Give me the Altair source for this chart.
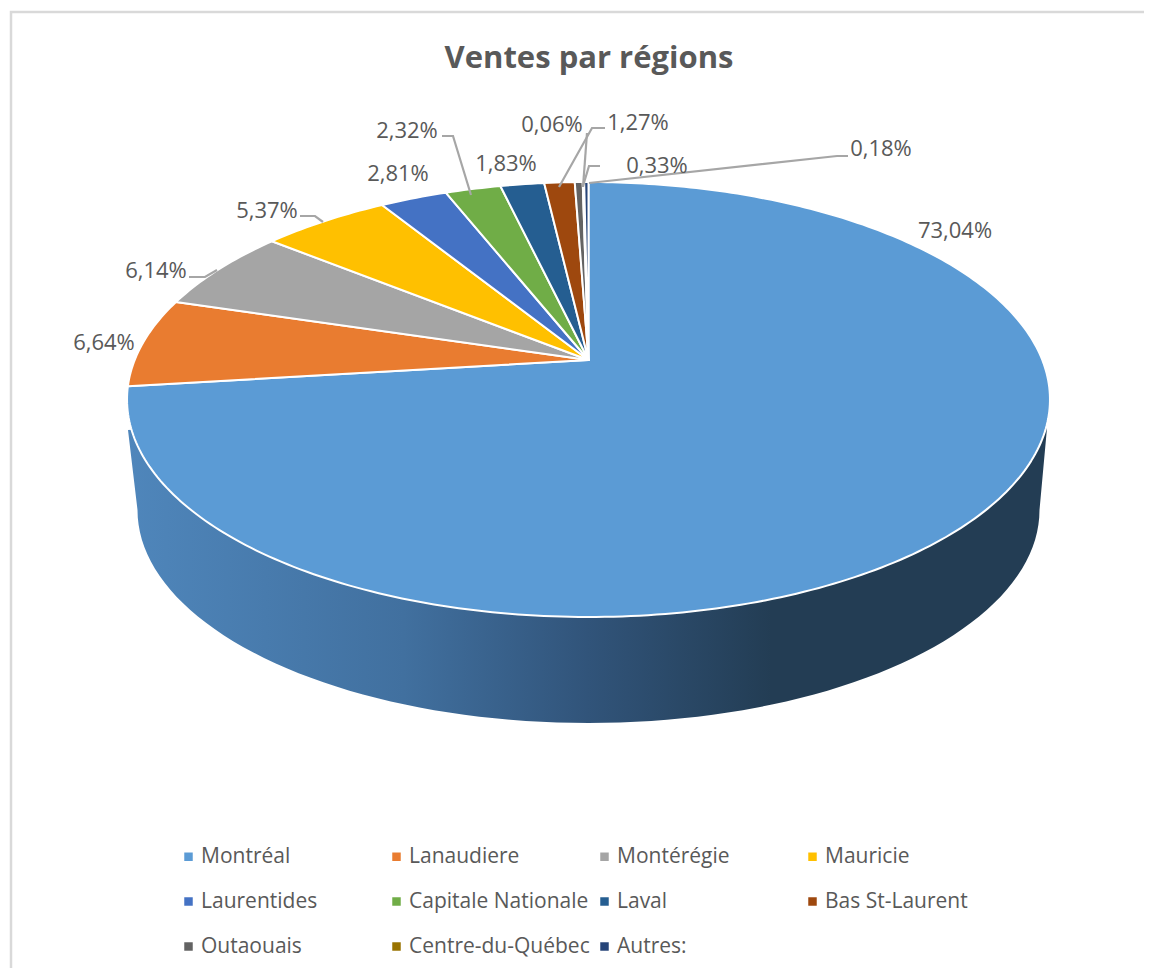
import math
import altair as alt

# ---- data -----------------------------------------------------------------
regions = ["Montréal", "Lanaudiere", "Montérégie", "Mauricie", "Laurentides",
           "Capitale Nationale", "Laval", "Bas St-Laurent", "Outaouais",
           "Centre-du-Québec", "Autres:"]
shares = [73.04, 6.64, 6.14, 5.37, 2.81, 2.32, 1.83, 1.27, 0.33, 0.06, 0.18]
colors = ["#5B9BD5", "#E97C30", "#A5A5A5", "#FFC000", "#4472C4", "#70AD47",
          "#255E91", "#9E480E", "#636363", "#997300", "#264478"]
label_texts = ["73,04%", "6,64%", "6,14%", "5,37%", "2,81%", "2,32%", "1,83%",
               "1,27%", "0,33%", "0,06%", "0,18%"]

# ---- layout of the tilted disc, in page pixels -----------------------------
OFF = 8            # page margin
CX, CY = 588.5, 360.0
RX, RY, K = 453.8, 210.3, 0.1816   # perspective of the disc
LOW_CY, LOW_RX, LOW_RY = 510.0, 451.0, 213.0   # lower rim
label_xy = [(955, 229), (104, 341), (156, 269), (267, 209), (398, 172), (407, 129),
            (506, 162), (638, 121), (657, 164), (552, 123), (881, 147)]
leaders = [
    [(189, 277), (205, 277), (217, 270)],
    [(300, 216), (315, 216), (323, 222)],
    [(442, 136), (453, 136), (471, 195)],
    [(605, 128), (592, 128), (559, 187)],
    [(587, 133), (583, 187)],
    [(600, 166), (589, 166), (583, 186)],
    [(848, 156), (837, 156), (589, 183)],
]
frame = [(11, 990), (11, 12), (1170, 12)]
WIDTH, HEIGHT = 1136, 960


def pt(x, y):
    return [x - OFF, y - OFF]


def disc(theta):
    u, v = math.sin(theta), math.cos(theta)
    d = 1 + K * v
    return pt(CX + RX * u / d, CY - RY * v / d)


def feature(kind, coords, **props):
    return {"type": "Feature", "properties": props,
            "geometry": {"type": kind, "coordinates": coords}}


def collection(features):
    return alt.InlineData(values={"type": "FeatureCollection", "features": features},
                          format=alt.DataFormat(property="features", type="json"))


slices, acc = [], 0.0
total = sum(shares)
for name, share in zip(regions, shares):
    a0 = 2 * math.pi * acc / total
    a1 = 2 * math.pi * (acc + share) / total
    n = max(3, int(share * 4))
    ring = [pt(CX, CY)] + [disc(a0 + (a1 - a0) * i / n) for i in range(n + 1)] + [pt(CX, CY)]
    slices.append(feature("Polygon", [ring], region=name))
    acc += share

wall_ring = [pt(128, 430)]
for i in range(0, 181, 2):
    a = math.radians(i)
    wall_ring.append(pt(CX - LOW_RX * math.cos(a), LOW_CY + LOW_RY * math.sin(a)))
wall_ring += [pt(1047, 428), pt(CX, 400), pt(128, 430)]

proj = dict(type="identity", scale=1, translate=[0, 0])

frame_layer = alt.Chart(collection([feature("LineString", [pt(*p) for p in frame])])).mark_geoshape(
    filled=False, stroke="#D9D9D9", strokeWidth=2.5).project(**proj)

wall_layer = alt.Chart(collection([feature("Polygon", [wall_ring])])).mark_geoshape(
    fill=alt.Gradient(gradient="linear", x1=0, x2=1, y1=0, y2=0, stops=[
        alt.GradientStop(offset=0, color="#4F86BB"),
        alt.GradientStop(offset=0.3, color="#41709F"),
        alt.GradientStop(offset=0.5, color="#31547A"),
        alt.GradientStop(offset=0.7, color="#233D54"),
        alt.GradientStop(offset=1, color="#233D54"),
    ])).project(**proj)

slice_layer = alt.Chart(collection(slices)).mark_geoshape(
    stroke="white", strokeWidth=2, strokeJoin="round").encode(
    color=alt.Color("properties.region:N",
                    scale=alt.Scale(domain=regions, range=colors),
                    legend=alt.Legend(
                        title=None, orient="none", legendX=170, legendY=838,
                        direction="horizontal",
                        columns=4, gridAlign="all", columnPadding=4, rowPadding=23,
                        symbolType="square", symbolSize=72, symbolStrokeWidth=0,
                        labelFont="Open Sans", labelFontSize=21, labelColor="#595959",
                        labelOffset=2, labelLimit=240))
).project(**proj)

leader_layer = alt.Chart(collection(
    [feature("LineString", [pt(*p) for p in line]) for line in leaders])).mark_geoshape(
    filled=False, stroke="#A6A6A6", strokeWidth=2.2).project(**proj)

label_rows = [{"txt": t, "lon": x - OFF, "lat": y - OFF} for t, (x, y) in zip(label_texts, label_xy)]
label_layer = alt.Chart(alt.Data(values=label_rows)).mark_text(
    font="Open Sans", fontSize=22, color="#595959", align="center", baseline="middle", dy=1.5
).encode(longitude="lon:Q", latitude="lat:Q", text="txt:N").project(**proj)

chart = alt.layer(frame_layer, wall_layer, slice_layer, leader_layer, label_layer).properties(
    width=WIDTH, height=HEIGHT,
    padding=0,
    autosize=alt.AutoSizeParams(type="none"),
    background="white",
    title=alt.TitleParams("Ventes par régions", anchor="middle", font="Open Sans",
                          fontSize=31, fontWeight="bold", color="#595959",
                          baseline="middle", dy=86, dx=581 - WIDTH / 2),
).configure_view(stroke=None)

chart.save("out.html", embed_options={"renderer": "svg", "actions": False})
